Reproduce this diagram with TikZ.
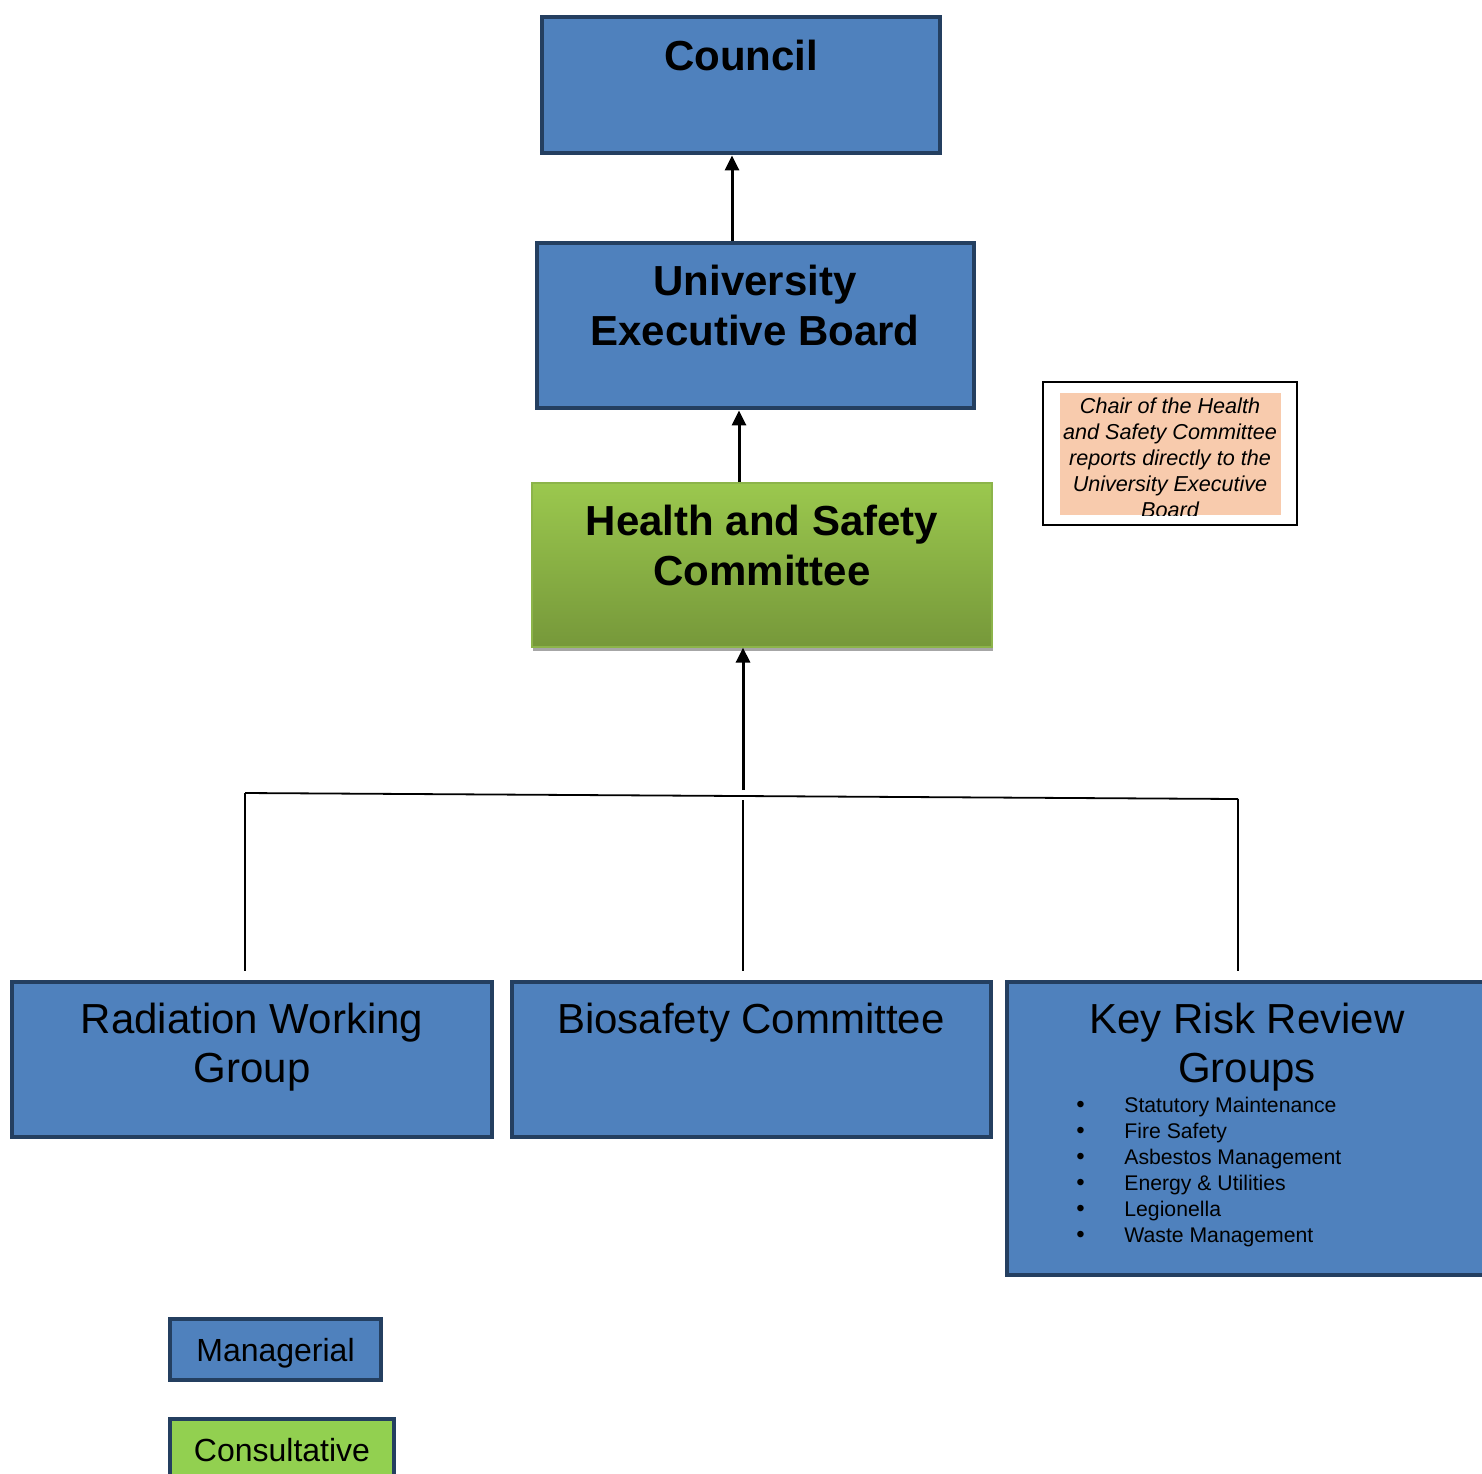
\documentclass[tikz,border=0pt]{standalone}
\usepackage{fontspec}
\setmainfont{Liberation Sans}
\usetikzlibrary{arrows.meta,positioning,shadows}
\definecolor{mgr}{HTML}{4F81BD}
\definecolor{mgrline}{HTML}{243F60}
\definecolor{cons}{HTML}{92D050}
\definecolor{hstop}{HTML}{9BC84E}
\definecolor{hsbot}{HTML}{76983A}
\definecolor{hsline}{HTML}{8CB44A}
\definecolor{peach}{HTML}{F8CBAD}
\tikzset{
  mbox/.style={draw=mgrline,fill=mgr,line width=2.4pt,inner sep=0pt},
  cbox/.style={draw=hsline,line width=0.6pt,top color=hstop,bottom color=hsbot,inner sep=0pt,
    drop shadow={shadow xshift=0.5pt,shadow yshift=-2pt,fill=black!35,opacity=1}},
  head/.style={font=\fontsize{21}{25}\selectfont\bfseries,align=center,inner sep=0pt,anchor=base},
  body/.style={font=\fontsize{21}{24.5}\selectfont,align=center,inner sep=0pt,anchor=base},
  items/.style={font=\fontsize{10.6}{13}\selectfont,align=left,inner sep=0pt,anchor=base west},
  notetxt/.style={font=\fontsize{10.8}{13}\selectfont\itshape,align=center,inner sep=0pt,anchor=base},
  legend/.style={font=\fontsize{16}{19}\selectfont,text depth=0pt},
  arr/.style={-{Triangle[length=7.5pt,width=7pt]},line width=1.5pt,color=black},
  link/.style={line width=0.9pt,color=black}}
\newcommand{\itm}[1]{\makebox[24pt][l]{\raisebox{-0.3pt}{\large\textbullet}}#1}

\begin{document}
\begin{tikzpicture}[x=0.5pt,y=-0.5pt]
\useasboundingbox (0,0) rectangle (1482,1473);
% top of the chain
\node[mbox,minimum width=199pt,minimum height=68pt] (council) at (741,85) {};
\node[head] (councilt) at (741,70) {Council};
\node[mbox,minimum width=218.5pt,minimum height=82.5pt] (ueb) at (755.5,325.5) {};
\node[head] (uebt) at (755,345) {University\\Executive Board};
\node[cbox,minimum width=230pt,minimum height=82pt] (hsc) at (762,565) {};
\node[head] (hsct) at (762,585) {Health and Safety\\Committee};
% note
\node[draw,line width=1pt,minimum width=127pt,minimum height=71.5pt] (note) at (1170,453.5) {};
\node[fill=peach,inner sep=0pt,minimum width=110.5pt,minimum height=61pt] (notefill) at (1170.5,454) {};
\begin{scope}
\clip (notefill.south west) rectangle (notefill.north east);
\node[notetxt] (notet) at (1170,517) {Chair of the Health\\and Safety Committee\\reports directly to the\\University Executive\\Board};
\end{scope}
% groups
\node[mbox,minimum width=240pt,minimum height=77.5pt] (rad) at (252,1059.5) {};
\node[body] (radt) at (252,1082) {Radiation Working\\Group};
\node[mbox,minimum width=239.5pt,minimum height=77.5pt] (bio) at (751.5,1059.5) {};
\node[body] (biot) at (751,1033) {Biosafety Committee};
\node[mbox,minimum width=241.5pt,minimum height=146.5pt] (krr) at (1248.5,1128.5) {};
\node[body] (krrt) at (1247,1082) {Key Risk Review\\Groups};
\node[items] (krrl) at (1076,1242) {\itm{Statutory Maintenance}\\\itm{Fire Safety}\\\itm{Asbestos Management}\\\itm{Energy \& Utilities}\\\itm{Legionella}\\\itm{Waste Management}};
% legend
\node[mbox,legend,minimum width=105.5pt,minimum height=30.5pt] (legm) at (275.5,1349.5) {Managerial};
\node[mbox,legend,fill=cons,minimum width=112pt,minimum height=30.5pt] (legc) at (282,1449.5) {Consultative};
% reporting lines
\draw[arr] ([xshift=-11.75pt]ueb.north) -- ([xshift=-11.75pt]ueb.north |- council.south);
\draw[arr] ([xshift=-11.5pt]hsc.north) -- ([xshift=-11.5pt]hsc.north |- ueb.south);
\coordinate (hub) at (743,790);
\coordinate (jl) at (245,793);
\coordinate (jm) at (743,800);
\coordinate (jr) at (1238,799);
\draw[arr] (hub) -- (hub |- hsc.south);
\draw[link] (jl) -- (jr);
\draw[link,shorten >=4.5pt] (jl) -- (jl |- rad.north);
\draw[link,shorten >=4.5pt] (jm) -- (jm |- bio.north);
\draw[link,shorten >=4.5pt] (jr) -- (jr |- krr.north);
\end{tikzpicture}
\end{document}
